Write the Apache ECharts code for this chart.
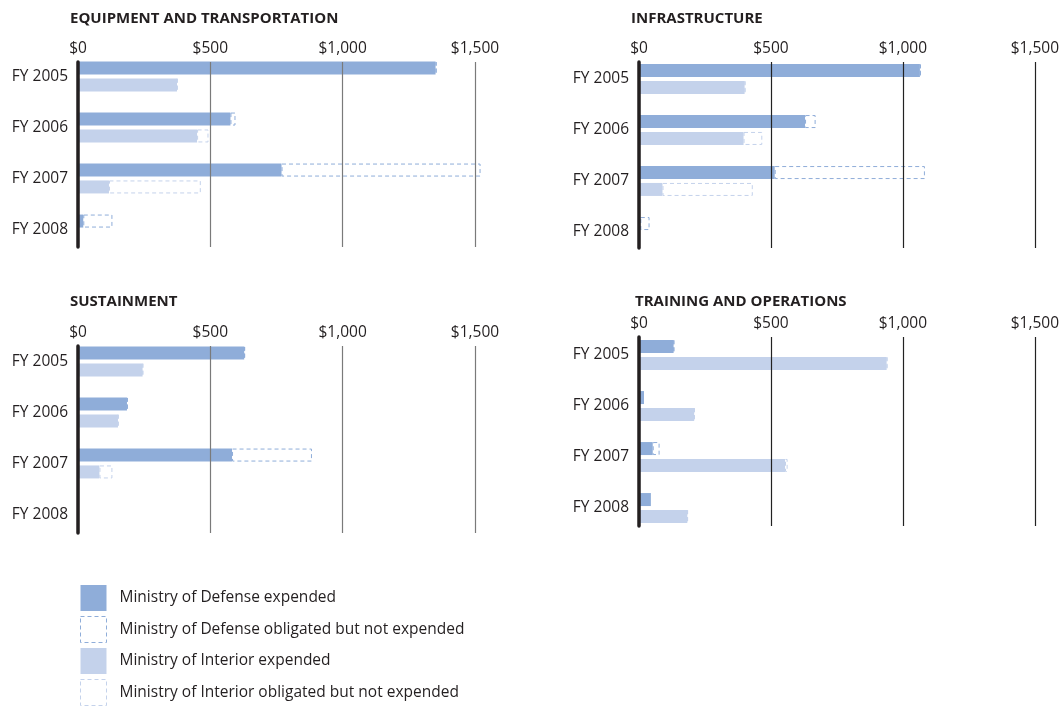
<!DOCTYPE html>
<html>
<head>
<meta charset="utf-8">
<script src="https://cdn.jsdelivr.net/npm/echarts@6/dist/echarts.min.js"></script>
<style>
  html, body { margin: 0; padding: 0; background: #fff; }
  #chart { width: 1062px; height: 710px; }
</style>
</head>
<body>
<div id="chart"></div>
<script>
const categories = ['FY 2005', 'FY 2006', 'FY 2007', 'FY 2008'];
const tickValues = [0, 500, 1000, 1500];

// Equipment and Transportation
const equipModExp = [1351, 576, 769, 20];
const equipModObl = [4, 19, 752, 110];
const equipMoiExp = [374, 450, 117, 0];
const equipMoiObl = [2, 43, 347, 4];

// Infrastructure
const infraModExp = [1064, 629, 514, 5];
const infraModObl = [4, 40, 569, 35];
const infraMoiExp = [400, 396, 89, 0];
const infraMoiObl = [3, 71, 342, 0];

// Sustainment
const sustModExp = [628, 185, 582, 0];
const sustModObl = [3, 3, 302, 0];
const sustMoiExp = [244, 151, 81, 0];
const sustMoiObl = [2, 2, 49, 0];

// Training and Operations
const trainModExp = [131, 19, 52, 45];
const trainModObl = [2, 0, 26, 0];
const trainMoiExp = [938, 209, 553, 183];
const trainMoiObl = [3, 2, 10, 2];

const names = [
  'Ministry of Defense expended',
  'Ministry of Defense obligated but not expended',
  'Ministry of Interior expended',
  'Ministry of Interior obligated but not expended'
];

const FONT = '"Open Sans", "Noto Sans", sans-serif';
const MOD = '#8fadd9';
const MOI = '#c4d2eb';
const DASH = [4, 3];

// bar area and axis area per panel
const panels = [
  { title: 'EQUIPMENT AND TRANSPORTATION', tx: 70, ty: 11, left: 78, right: 587, barTop: 51, axisTop: 62, axisH: 185, grid: '#7a7a7a',
    data: [equipModExp, equipModObl, equipMoiExp, equipMoiObl] },
  { title: 'INFRASTRUCTURE', tx: 631, ty: 11, left: 639, right: 27, barTop: 53.5, axisTop: 62, axisH: 186, grid: '#222',
    data: [infraModExp, infraModObl, infraMoiExp, infraMoiObl] },
  { title: 'SUSTAINMENT', tx: 70, ty: 294, left: 78, right: 587, barTop: 336, axisTop: 346, axisH: 187, grid: '#7a7a7a',
    data: [sustModExp, sustModObl, sustMoiExp, sustMoiObl] },
  { title: 'TRAINING AND OPERATIONS', tx: 635, ty: 294, left: 639, right: 27, barTop: 329.5, axisTop: 337, axisH: 189, grid: '#222',
    data: [trainModExp, trainModObl, trainMoiExp, trainMoiObl] }
];

const clean = arr => arr.map(v => (v === 0 ? null : v));

const grid = [], xAxis = [], yAxis = [], series = [], title = [];

panels.forEach((p, i) => {
  title.push({
    text: p.title, left: p.tx, top: p.ty, padding: 0,
    textStyle: { fontFamily: FONT, fontSize: 15, fontWeight: 'bold', color: '#231f20' }
  });

  // grid for bars
  grid.push({ left: p.left, right: p.right, top: p.barTop, height: 204 });
  xAxis.push({ gridIndex: 2 * i, type: 'value', min: 0, max: 1500, show: false });
  yAxis.push({
    gridIndex: 2 * i, type: 'category', inverse: true, data: categories,
    axisLine: { show: false }, axisTick: { show: false },
    axisLabel: { fontFamily: FONT, fontSize: 15.5, color: '#231f20', margin: 10 }
  });

  // grid for the lines and ticks
  grid.push({ left: p.left, right: p.right, top: p.axisTop, height: p.axisH });
  xAxis.push({
    gridIndex: 2 * i + 1, type: 'value', position: 'top', min: 0, max: 1500, interval: 500, z: 5,
    axisLine: { show: false }, axisTick: { show: false },
    splitLine: { show: true, lineStyle: { color: p.grid, width: 1.2 } },
    axisLabel: {
      fontFamily: FONT, fontSize: 15.5, color: '#231f20', margin: 5,
      formatter: v => '$' + v.toLocaleString('en-US')
    }
  });
  yAxis.push({
    gridIndex: 2 * i + 1, type: 'value', min: 0, max: 1, z: 5,
    axisLine: { show: true, lineStyle: { color: '#231f20', width: 3.5 } },
    axisTick: { show: false }, axisLabel: { show: false }, splitLine: { show: false }
  });

  const [modExp, modObl, moiExp, moiObl] = p.data;
  const base = { type: 'bar', xAxisIndex: 2 * i, yAxisIndex: 2 * i, barWidth: 13, barGap: '30%', silent: true, clip: false };
  series.push(
    Object.assign({}, base, { name: names[0], stack: 'mod' + i, data: clean(modExp), itemStyle: { color: MOD } }),
    Object.assign({}, base, { name: names[1], stack: 'mod' + i, data: clean(modObl),
      itemStyle: { color: '#fff', borderColor: MOD, borderType: DASH, borderWidth: 1 } }),
    Object.assign({}, base, { name: names[2], stack: 'moi' + i, data: clean(moiExp), itemStyle: { color: MOI } }),
    Object.assign({}, base, { name: names[3], stack: 'moi' + i, data: clean(moiObl),
      itemStyle: { color: '#fff', borderColor: MOI, borderType: DASH, borderWidth: 1 } })
  );
});

const chart = echarts.init(document.getElementById('chart'));
chart.setOption({
  animation: false,
  backgroundColor: '#fff',
  title: title,
  grid: grid,
  xAxis: xAxis,
  yAxis: yAxis,
  series: series,
  legend: {
    data: [
      { name: names[0], itemStyle: { color: MOD, borderWidth: 0 } },
      { name: names[1], itemStyle: { color: '#fff', borderColor: MOD, borderType: DASH, borderWidth: 1 } },
      { name: names[2], itemStyle: { color: MOI, borderWidth: 0 } },
      { name: names[3], itemStyle: { color: '#fff', borderColor: MOI, borderType: DASH, borderWidth: 1 } }
    ],
    orient: 'vertical', left: 80, top: 585, padding: 0,
    itemWidth: 26, itemHeight: 26, itemGap: 5, icon: 'rect',
    selectedMode: false,
    textStyle: { fontFamily: FONT, fontSize: 15.5, color: '#231f20', padding: [18, 0, 0, 8] }
  }
});
</script>
</body>
</html>
